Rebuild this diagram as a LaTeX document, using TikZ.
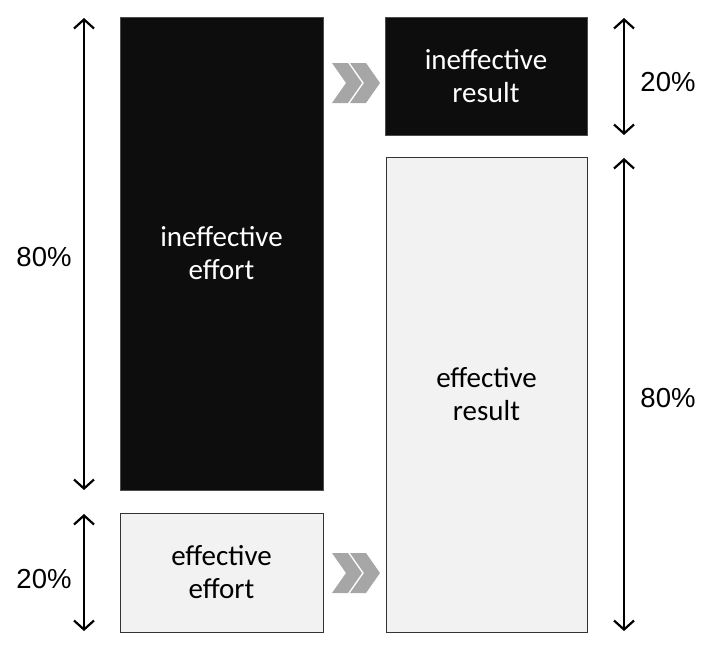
\documentclass[tikz,border=0pt]{standalone}
\usepackage{fontspec}
\setmainfont{Carlito}
\newfontfamily\pctfont{Liberation Sans}
\usetikzlibrary{arrows.meta}
\definecolor{boxdark}{HTML}{0D0D0D}
\definecolor{boxlight}{HTML}{F2F2F2}
\definecolor{chev}{HTML}{A6A6A6}
\tikzset{
  darkbox/.style={draw=black!70, line width=1pt, fill=boxdark, text=white, inner sep=0pt, outer sep=0pt, font=\fontsize{29}{33}\selectfont, align=center},
  lightbox/.style={draw=black!80, line width=0.9pt, fill=boxlight, text=black, inner sep=0pt, outer sep=0pt, font=\fontsize{29}{33}\selectfont, align=center},
  pct/.style={font=\pctfont\fontsize{27.5}{30}\selectfont, inner sep=0pt},
  dim/.style={line width=2pt, {Straight Barb[length=9pt,width=20pt,line width=2.2pt]}-{Straight Barb[length=9pt,width=20pt,line width=2.2pt]}},
  chevron/.style={fill=chev, draw=none},
}
\begin{document}
\begin{tikzpicture}[x=1pt,y=-1pt]
\useasboundingbox (0,0) rectangle (708,649);
% boxes
\node[darkbox, minimum width=203pt, minimum height=473pt] (ie) at (221.5,253.5) {ineffective\\effort};
\node[lightbox, minimum width=203pt, minimum height=119pt] (ee) at (221.5,572.5) {effective\\effort};
\node[darkbox, minimum width=202pt, minimum height=118pt] (ir) at (486,76) {ineffective\\result};
\node[lightbox, minimum width=201pt, minimum height=475pt] (er) at (486.5,394.5) {effective\\result};
% dimension arrows
\coordinate (a1t) at (84,18);  \coordinate (a1b) at (84,490);
\coordinate (a2t) at (84,514); \coordinate (a2b) at (84,631);
\coordinate (a3t) at (624,18); \coordinate (a3b) at (624,135);
\coordinate (a4t) at (624,158); \coordinate (a4b) at (624,631);
\draw[dim] (a1t) -- (a1b);
\draw[dim] (a2t) -- (a2b);
\draw[dim] (a3t) -- (a3b);
\draw[dim] (a4t) -- (a4b);
\node[pct] (p1) at (44,257) {80\%};
\node[pct] (p2) at (44,579) {20\%};
\node[pct] (p3) at (668,82) {20\%};
\node[pct] (p4) at (668,398) {80\%};
% chevrons
\foreach \cy in {83,573}{
  \foreach \cx in {332,350}{
    \fill[chevron] (\cx,\cy-20) -- ++(16,0) -- ++(14,20) -- ++(-14,20) -- ++(-16,0) -- ++(14,-20) -- cycle;
  }
}
\end{tikzpicture}
\end{document}
